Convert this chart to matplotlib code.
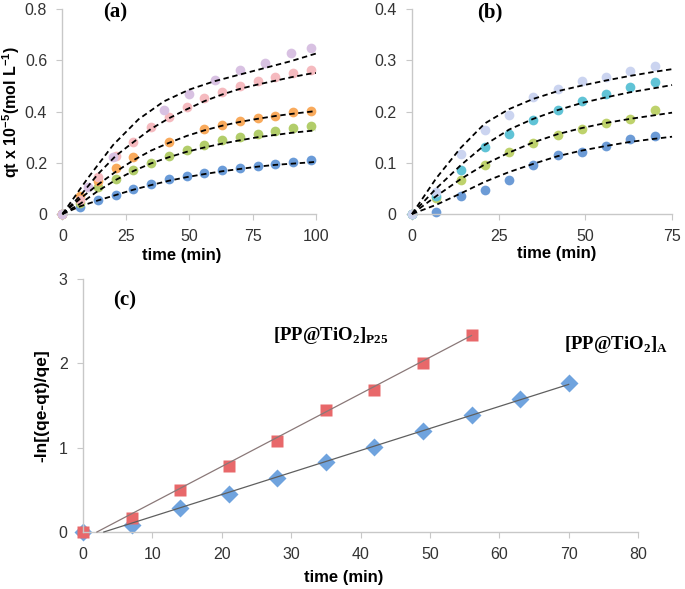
import numpy as np
import matplotlib
matplotlib.use("Agg")
import matplotlib.pyplot as plt

plt.rcParams['font.family'] = ['Liberation Sans', 'DejaVu Sans']
plt.rcParams['mathtext.fontset'] = 'custom'
plt.rcParams['mathtext.rm'] = 'Liberation Serif:bold'
plt.rcParams['mathtext.bf'] = 'Liberation Serif:bold'
plt.rcParams['mathtext.sf'] = 'Liberation Sans:bold'

# ---- panel (a) data ----
ta = [0, 7, 14, 21, 28, 35, 42, 49, 56, 63, 70, 77, 84, 91, 98]
a_blue = [0, 0.026, 0.055, 0.074, 0.098, 0.118, 0.136, 0.147, 0.159, 0.17, 0.179, 0.189, 0.196, 0.203, 0.21]
a_green = [0, 0.044, 0.107, 0.136, 0.172, 0.201, 0.227, 0.251, 0.268, 0.288, 0.301, 0.313, 0.324, 0.337, 0.343]
ta_orange = [0, 7, 14, 21, 28, 42, 56, 63, 70, 77, 84, 91, 98]
a_orange = [0, 0.07, 0.127, 0.178, 0.222, 0.28, 0.332, 0.348, 0.362, 0.374, 0.384, 0.397, 0.404]
a_pink = [0, 0.055, 0.146, 0.225, 0.281, 0.34, 0.378, 0.42, 0.452, 0.477, 0.5, 0.52, 0.537, 0.55, 0.562]
ta_lav = [0, 10, 20, 40, 50, 60, 70, 80, 90, 98]
a_lav = [0, 0.106, 0.222, 0.408, 0.47, 0.523, 0.562, 0.591, 0.63, 0.647]

# fitted curves
ta_fit = [0, 7, 14, 21, 28, 35, 42, 49, 56, 63, 70, 77, 84, 91, 98, 100]
fa_blue = [0, 0.03, 0.053, 0.074, 0.095, 0.113, 0.13, 0.144, 0.156, 0.167, 0.176, 0.185, 0.192, 0.197, 0.202, 0.204]
fa_green = [0, 0.04, 0.09, 0.133, 0.168, 0.198, 0.222, 0.243, 0.26, 0.275, 0.288, 0.3, 0.309, 0.318, 0.325, 0.327]
fa_orange = [0, 0.06, 0.115, 0.165, 0.21, 0.248, 0.278, 0.305, 0.327, 0.345, 0.36, 0.372, 0.383, 0.392, 0.4, 0.402]
fa_pink = [0, 0.071, 0.156, 0.227, 0.281, 0.333, 0.374, 0.409, 0.441, 0.467, 0.489, 0.506, 0.521, 0.536, 0.549, 0.551]
ta_lav_fit = [0, 10, 20, 30, 40, 50, 60, 70, 80, 90, 100]
fa_lav = [0, 0.14, 0.27, 0.37, 0.44, 0.486, 0.519, 0.545, 0.571, 0.597, 0.627]

# ---- panel (b) data ----
tb = [0, 7, 14, 21, 28, 35, 42, 49, 56, 63, 70]
b_blue = [0, 0.004, 0.036, 0.047, 0.066, 0.096, 0.115, 0.121, 0.133, 0.146, 0.152]
b_green = [0, 0.031, 0.066, 0.096, 0.121, 0.139, 0.154, 0.167, 0.177, 0.185, 0.203]
b_cyan = [0, 0.035, 0.085, 0.13, 0.157, 0.183, 0.203, 0.22, 0.234, 0.249, 0.258]
b_lav = [0, 0.043, 0.118, 0.164, 0.194, 0.228, 0.244, 0.259, 0.268, 0.28, 0.29]

tb_fit = [0, 7, 14, 21, 28, 35, 42, 49, 56, 63, 70, 75]
fb_blue = [0, 0.018, 0.04, 0.063, 0.082, 0.098, 0.113, 0.124, 0.133, 0.141, 0.147, 0.151]
fb_green = [0, 0.035, 0.068, 0.097, 0.12, 0.14, 0.156, 0.168, 0.178, 0.186, 0.193, 0.198]
fb_cyan = [0, 0.05, 0.095, 0.135, 0.165, 0.186, 0.203, 0.217, 0.228, 0.238, 0.246, 0.252]
fb_lav = [0, 0.07, 0.129, 0.177, 0.205, 0.225, 0.24, 0.251, 0.261, 0.27, 0.278, 0.283]

# ---- panel (c) data ----
tc_p25 = [0, 7, 14, 21, 28, 35, 42, 49, 56]
c_p25 = [0, 0.162, 0.498, 0.787, 1.08, 1.45, 1.684, 2.0, 2.337]
tc_a = [0, 7, 14, 21, 28, 35, 42, 49, 56, 63, 70]
c_a = [0, 0.083, 0.28, 0.45, 0.636, 0.834, 1.01, 1.198, 1.388, 1.574, 1.771]
# linear fit lines (ends)
tc_p25_fit = [2, 56]
fc_p25 = [0, 2.33]
tc_a_fit = [3, 70]
fc_a = [0, 1.75]

gray = '#c8c8c8'
tickc = '#333333'


def style(ax):
    for s in ['top', 'right']:
        ax.spines[s].set_visible(False)
    for s in ['left', 'bottom']:
        ax.spines[s].set_color(gray)
        ax.spines[s].set_linewidth(1.0)
    ax.tick_params(colors=gray, labelcolor=tickc, labelsize=11.5, length=4,
                   direction='out', pad=7)


fig = plt.figure(figsize=(6.85, 5.89), dpi=100)
ax1 = fig.add_axes([0.0912, 0.6367, 0.370, 0.3475])
ax2 = fig.add_axes([0.6015, 0.6367, 0.3796, 0.3475])
ax3 = fig.add_axes([0.1212, 0.0968, 0.8102, 0.4295])

ms = 7
dash = dict(color='black', lw=1.3, ls=(0, (3, 2)), zorder=3)

# (a)
for t, q, ft, fq, c in [(ta, a_blue, ta_fit, fa_blue, '#6a9bd8'),
                        (ta, a_green, ta_fit, fa_green, '#b2cd6a'),
                        (ta_orange, a_orange, ta_fit, fa_orange, '#f9aa5c'),
                        (ta, a_pink, ta_fit, fa_pink, '#f5babf'),
                        (ta_lav, a_lav, ta_lav_fit, fa_lav, '#d8c1e2')]:
    ax1.plot(t, q, 'o', color=c, ms=ms, mec='none', zorder=2)
    ax1.plot(ft, fq, **dash)
ax1.set_xlim(0, 100)
ax1.set_ylim(0, 0.8)
ax1.set_xticks([0, 25, 50, 75, 100])
ax1.set_yticks([0, 0.2, 0.4, 0.6, 0.8])
ax1.set_yticklabels(['0', '0.2', '0.4', '0.6', '0.8'])
style(ax1)
ax1.set_xlabel('time (min)', fontsize=12, fontweight='bold')
ax1.xaxis.set_label_coords(0.47, -0.165)
ax1.set_ylabel(r'qt x 10$^{\mathsf{-5}}$(mol L$^{\mathsf{-1}}$)', fontsize=11.5, fontweight='bold')
ax1.yaxis.set_label_coords(-0.16, 0.5)
ax1.text(0.16, 0.985, '(a)', transform=ax1.transAxes, fontsize=15, fontweight='bold',
         family='Liberation Serif', va='center')

# (b)
for q, fq, c in [(b_blue, fb_blue, '#6c9bd6'),
                 (b_green, fb_green, '#bed26c'),
                 (b_cyan, fb_cyan, '#60c3d6'),
                 (b_lav, fb_lav, '#cbd4f0')]:
    ax2.plot(tb, q, 'o', color=c, ms=ms, mec='none', zorder=2)
    ax2.plot(tb_fit, fq, **dash)
ax2.set_xlim(0, 75)
ax2.set_ylim(0, 0.4)
ax2.set_xticks([0, 25, 50, 75])
ax2.set_yticks([0, 0.1, 0.2, 0.3, 0.4])
ax2.set_yticklabels(['0', '0.1', '0.2', '0.3', '0.4'])
style(ax2)
ax2.set_xlabel('time (min)', fontsize=12, fontweight='bold')
ax2.xaxis.set_label_coords(0.558, -0.158)
ax2.text(0.25, 0.985, '(b)', transform=ax2.transAxes, fontsize=15, fontweight='bold',
         family='Liberation Serif', va='center')

# (c)
ax3.plot(tc_p25_fit, fc_p25, color='#8a7878', lw=0.9, zorder=3)
ax3.plot(tc_a_fit, fc_a, color='#5f5f5f', lw=0.9, zorder=3)
ax3.plot(tc_a, c_a, 'D', color='#6fa3de', ms=9, mec='none', zorder=2)
ax3.plot(tc_p25, c_p25, 's', color='#e8686a', ms=8.5, mec='none', zorder=2)
ax3.set_xlim(0, 80)
ax3.set_ylim(0, 3)
ax3.set_xticks(np.arange(0, 81, 10))
ax3.set_yticks([0, 1, 2, 3])
style(ax3)
for a in (ax1, ax2, ax3):
    for ln in a.lines:
        ln.set_clip_on(False)
ax3.set_xlabel('time (min)', fontsize=12, fontweight='bold')
ax3.xaxis.set_label_coords(0.47, -0.152)
ax3.set_ylabel('-ln[(qe-qt)/qe]', fontsize=12.5, fontweight='bold')
ax3.yaxis.set_label_coords(-0.06, 0.5)
ax3.text(4.3, 2.75, '(c)', fontsize=15, fontweight='bold', family='Liberation Serif', va='center')
ax3.text(27.4, 2.33, r'[PP@TiO$_{\mathrm{2}}$]$_{\mathrm{P25}}$', fontsize=13.5,
         family='Liberation Serif', fontweight='bold', va='center')
ax3.text(69.3, 2.22, r'[PP@TiO$_{\mathrm{2}}$]$_{\mathrm{A}}$', fontsize=13.5,
         family='Liberation Serif', fontweight='bold', va='center')

fig.savefig('out.png', dpi=100)
